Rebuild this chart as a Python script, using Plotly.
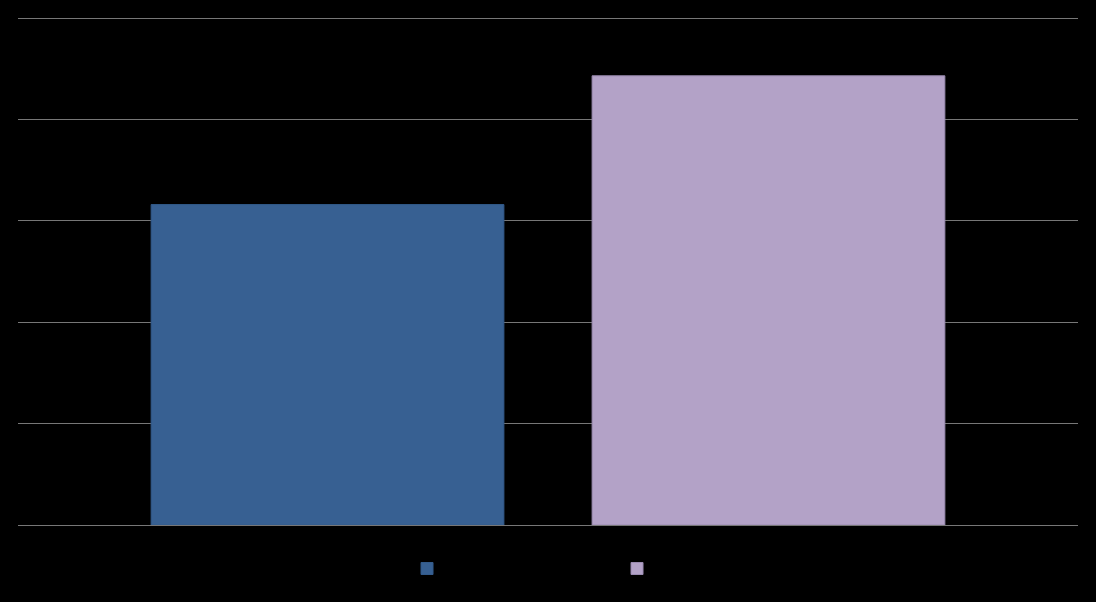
import plotly.graph_objects as go

categories = [""]
series_names = ["", " "]
series_values = [[3.16], [4.43]]
colors = ["#376092", "#B3A2C7"]
edge_colors = ["#325a8a", "#9a8ab0"]

fig = go.Figure()
for name, vals, c, ec in zip(series_names, series_values, colors, edge_colors):
    fig.add_trace(go.Bar(x=categories, y=vals, name=name, marker=dict(color=c, line=dict(color=ec, width=1))))

fig.update_layout(
    width=1096, height=602,
    paper_bgcolor="black", plot_bgcolor="black",
    margin=dict(l=18, r=18, t=16, b=77),
    barmode="group", bargap=0.168, bargroupgap=0.2,
    showlegend=True,
    legend=dict(orientation="h", x=0.367, xanchor="left", y=-0.057, yanchor="top",
                entrywidth=165, entrywidthmode="pixels",
                font=dict(color="white", size=12), bgcolor="rgba(0,0,0,0)"),
    xaxis=dict(showticklabels=False, showgrid=False, zeroline=False, showline=False, ticks=""),
    yaxis=dict(range=[0, 5.0197], tickvals=[0, 1, 2, 3, 4, 5], showticklabels=False, showgrid=True, gridcolor="#777777",
               gridwidth=1, zeroline=True, zerolinecolor="#777777", zerolinewidth=1, showline=False, ticks=""),
)
fig.write_html("out.html", config={"displayModeBar": False},
               post_script="document.body.style.margin='0';document.body.style.background='black';document.body.style.overflow='hidden';")
